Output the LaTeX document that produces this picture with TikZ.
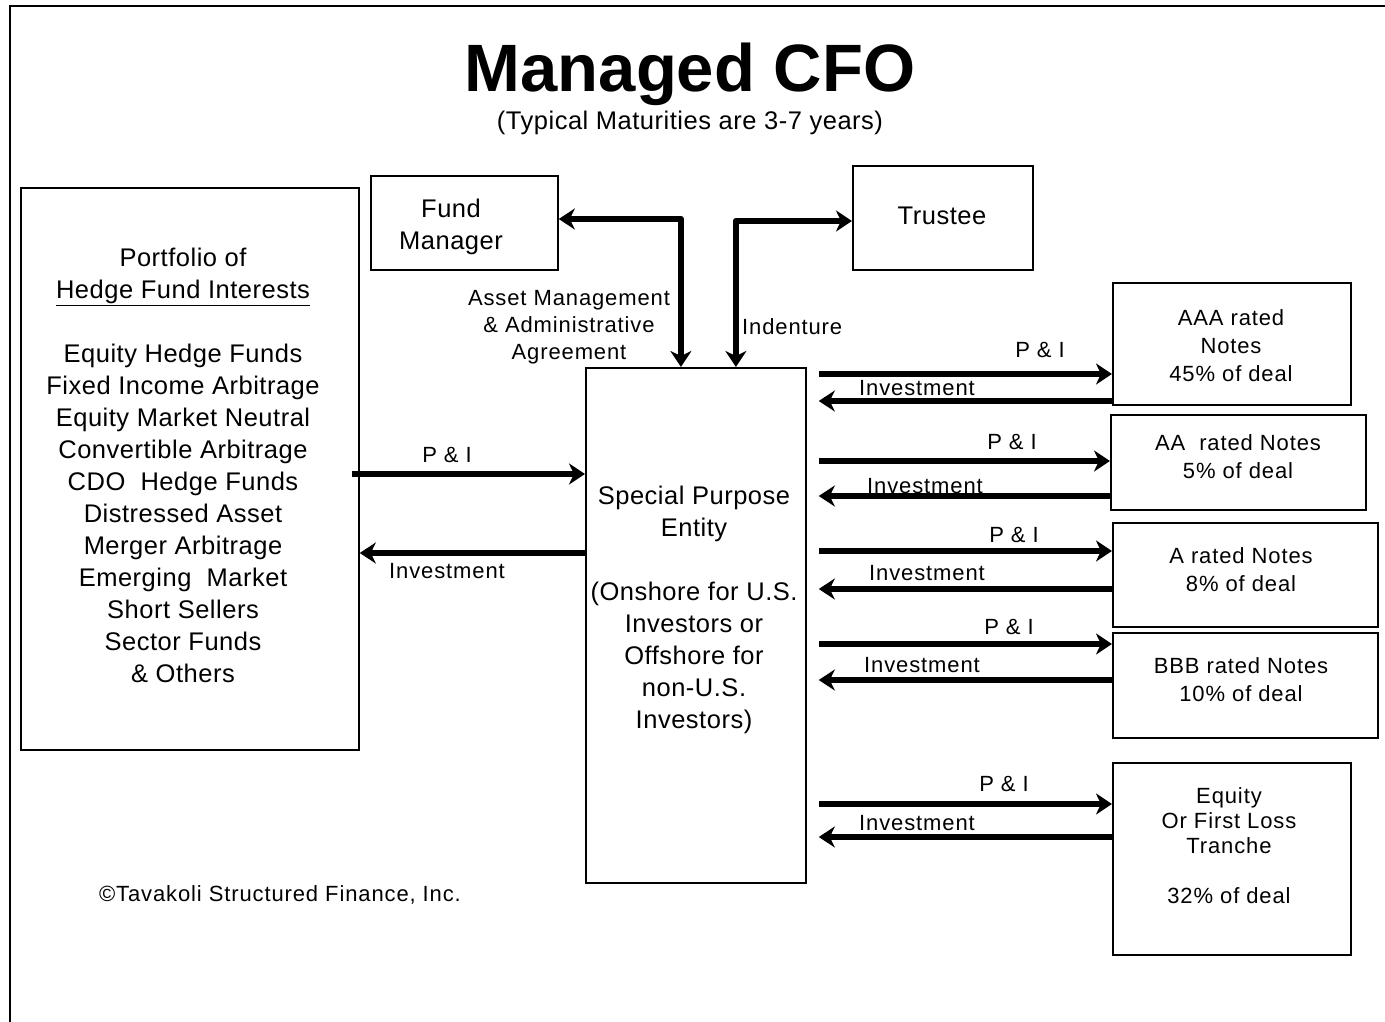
\documentclass[tikz,border=0pt]{standalone}
\usepackage{fontspec}
\setmainfont{Liberation Sans}[LetterSpace=2]
\newfontfamily\smallfam{Liberation Sans}[LetterSpace=4]
\newfontfamily\titlefam{Liberation Sans}
\usetikzlibrary{arrows.meta}
\begin{document}
\begin{tikzpicture}[x=1pt,y=-1pt,
  box/.style={draw, line width=1.8pt, inner sep=0pt, anchor=north west},
  big/.style={font=\fontsize{25.5}{32}\selectfont, align=center, inner sep=0pt},
  sm/.style={font=\smallfam\fontsize{22}{28}\selectfont, align=center, inner sep=0pt},
  flow/.style={line width=6.5pt, -{Stealth[length=16pt,width=21pt,inset=5pt]}},
  both/.style={line width=6.5pt, line join=round, {Stealth[length=16pt,width=21pt,inset=5pt]}-{Stealth[length=16pt,width=21pt,inset=5pt]}}
]
\useasboundingbox (0,0) rectangle (1385,1022);
% frame
\draw[line width=2pt] (10,1040) -- (10,6) -- (1400,6);

% title
\node[font=\titlefam\bfseries\fontsize{67}{80}\selectfont, anchor=base, inner sep=0pt] (title) at (690,92) {Managed CFO};
\node[big, anchor=base] (subtitle) at (690,130) {(Typical Maturities are 3-7 years)};

% boxes
\node[box, minimum width=338pt, minimum height=562pt] (port) at (20,187) {};
\node[box, minimum width=187pt, minimum height=94pt] (fm) at (370,175) {};
\node[box, minimum width=180pt, minimum height=104pt] (tr) at (852,165) {};
\node[box, minimum width=220pt, minimum height=515pt] (spe) at (585,367) {};
\node[box, minimum width=238pt, minimum height=122pt] (aaa) at (1112,282) {};
\node[box, minimum width=255pt, minimum height=95pt] (aa) at (1110,414) {};
\node[box, minimum width=265pt, minimum height=104pt] (ra) at (1112,522) {};
\node[box, minimum width=265pt, minimum height=105pt] (bbb) at (1112,632) {};
\node[box, minimum width=238pt, minimum height=192pt] (eq) at (1112,762) {};

% box texts
\node[big] (porttxt) at (183,465) {Portfolio of\\\underline{Hedge Fund Interests}\\[32pt]Equity Hedge Funds\\Fixed Income Arbitrage\\Equity Market Neutral\\Convertible Arbitrage\\CDO\ \ Hedge Funds\\Distressed Asset\\Merger Arbitrage\\Emerging\ \ Market\\Short Sellers\\Sector Funds\\\& Others};
\node[big] (fmtxt) at (451,227) {Fund\\Manager};
\node[big] (trtxt) at (942,216) {Trustee};
\node[big] (spetxt) at (694,610) {Special Purpose\\Entity\\[32pt](Onshore for U.S.\\Investors or\\Offshore for\\non-U.S.\\Investors)};
\node[sm] (aaatxt) at (1231,346) {AAA rated\\Notes\\45\% of deal};
\node[sm] (aatxt) at (1238,457) {AA\ \ rated Notes\\5\% of deal};
\node[sm] (ratxt) at (1241,570) {A rated Notes\\8\% of deal};
\node[sm] (bbbtxt) at (1241,680) {BBB rated Notes\\10\% of deal};
\node[sm, font=\smallfam\fontsize{22}{25}\selectfont] (eqtxt) at (1229,846) {Equity\\Or First Loss\\Tranche\\[25pt]32\% of deal};
\node[sm] (copy) at (280,895) {©Tavakoli Structured Finance, Inc.};

% top elbow connectors
\draw[both] (fm.east |- 0,219) -| ([xshift=-15pt]spe.north);
\draw[both] ([xshift=40pt]spe.north) |- (tr.west |- 0,221);
\node[sm, font=\smallfam\fontsize{22}{27}\selectfont] (amlbl) at (569,327) {Asset Management\\\& Administrative\\Agreement};
\node[sm, anchor=west] (indlbl) at (742,327) {Indenture};

% left flows
\draw[flow, shorten <=-8pt] (port.east |- 0,474) -- (spe.west |- 0,474);
\draw[flow] (spe.west |- 0,553) -- (port.east |- 0,553);
\node[sm] (lpi) at (447,455) {P \& I};
\node[sm] (linv) at (447,571) {Investment};

% right flows
\draw[flow, shorten <=12pt] (spe.east |- 0,374) -- (aaa.west |- 0,374);
\draw[flow, shorten >=12pt] (aaa.west |- 0,401) -- (spe.east |- 0,401);
\node[sm] (pi1) at (1040,350) {P \& I};
\node[sm] (inv1) at (917,388) {Investment};

\draw[flow, shorten <=12pt] (spe.east |- 0,461) -- (aa.west |- 0,461);
\draw[flow, shorten >=12pt] (aa.west |- 0,496) -- (spe.east |- 0,496);
\node[sm] (pi2) at (1012,442) {P \& I};
\node[sm] (inv2) at (925,486) {Investment};

\draw[flow, shorten <=12pt] (spe.east |- 0,551) -- (ra.west |- 0,551);
\draw[flow, shorten >=12pt] (ra.west |- 0,589) -- (spe.east |- 0,589);
\node[sm] (pi3) at (1014,535) {P \& I};
\node[sm] (inv3) at (927,573) {Investment};

\draw[flow, shorten <=12pt] (spe.east |- 0,644) -- (bbb.west |- 0,644);
\draw[flow, shorten >=12pt] (bbb.west |- 0,680) -- (spe.east |- 0,680);
\node[sm] (pi4) at (1009,627) {P \& I};
\node[sm] (inv4) at (922,665) {Investment};

\draw[flow, shorten <=12pt] (spe.east |- 0,804) -- (eq.west |- 0,804);
\draw[flow, shorten >=12pt] (eq.west |- 0,837) -- (spe.east |- 0,837);
\node[sm] (pi5) at (1004,784) {P \& I};
\node[sm] (inv5) at (917,823) {Investment};
\end{tikzpicture}
\end{document}
